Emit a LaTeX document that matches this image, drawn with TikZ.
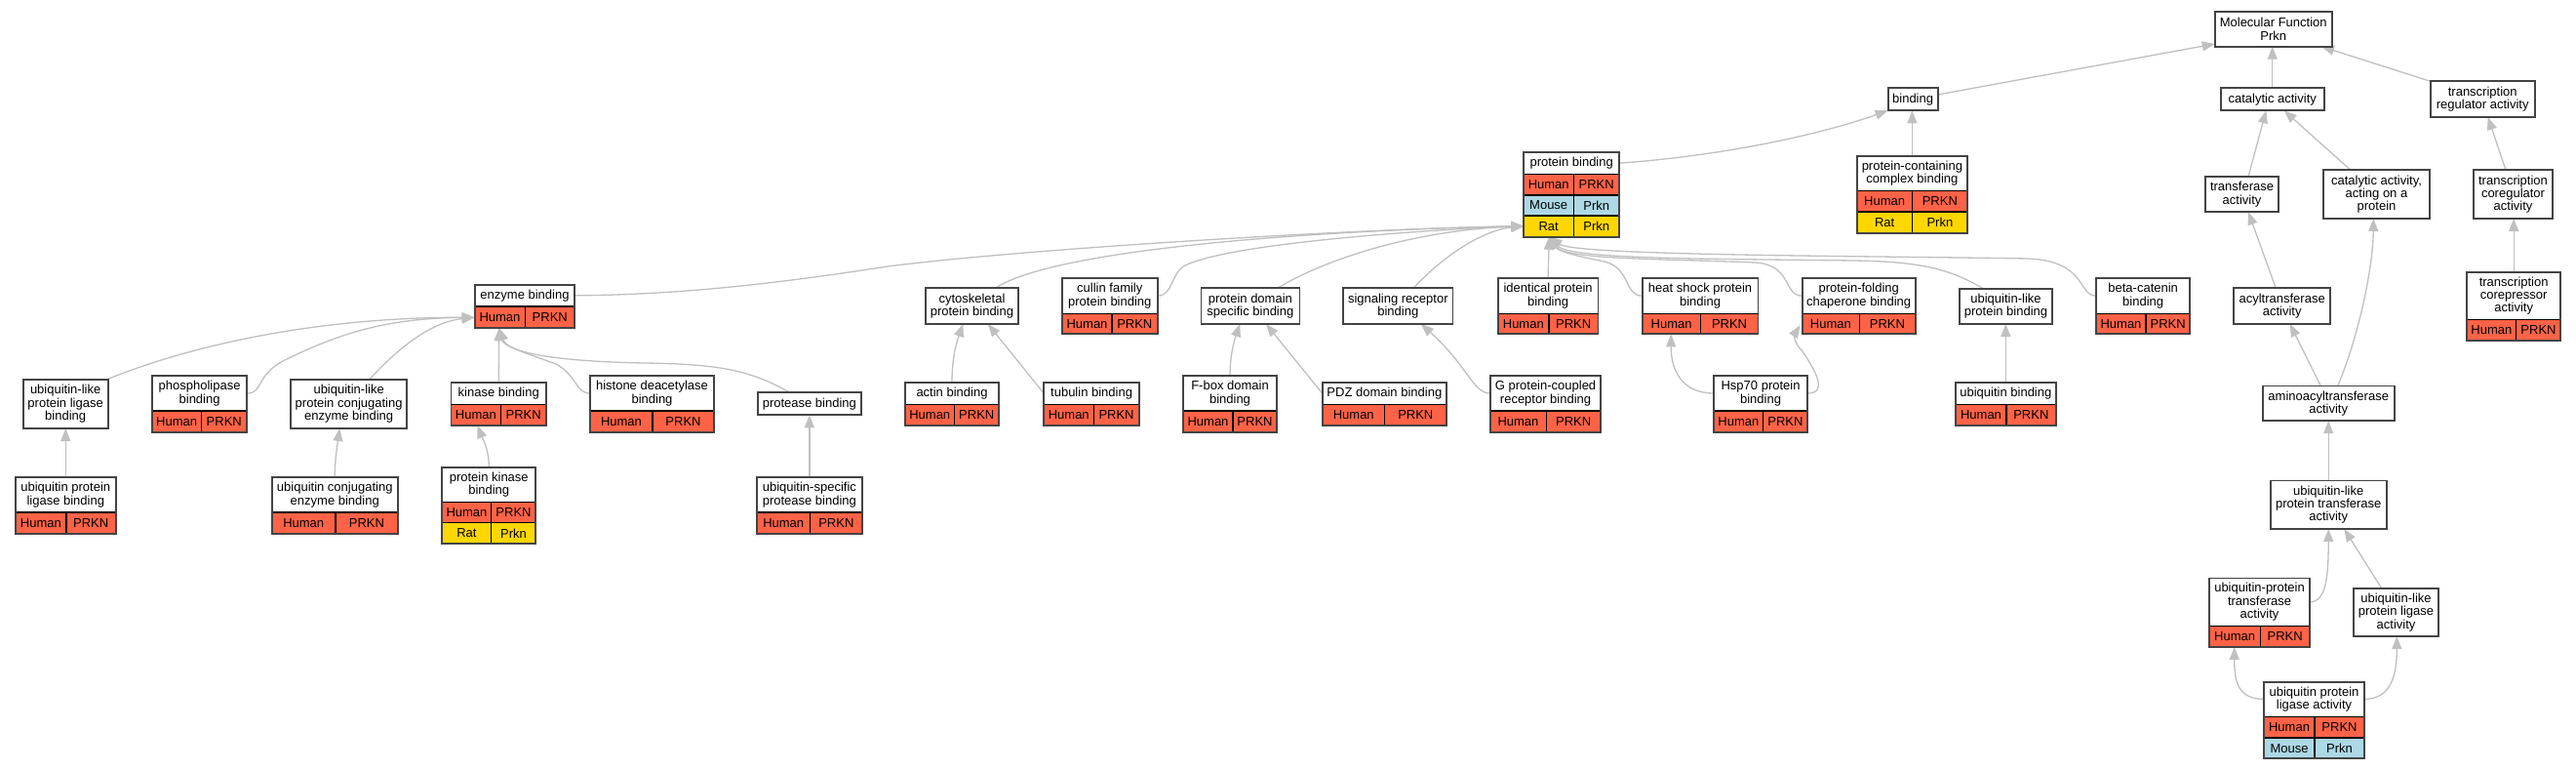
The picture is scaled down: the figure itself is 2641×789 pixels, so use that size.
\documentclass[tikz,border=0pt]{standalone}
\usepackage{fontspec}
\setmainfont{Liberation Sans}
\usetikzlibrary{arrows.meta,calc}
\pgfdeclarelayer{bg}
\pgfsetlayers{bg,main}
\definecolor{hred}{RGB}{255,99,71}
\definecolor{mblue}{RGB}{173,216,230}
\definecolor{ryel}{RGB}{255,215,0}
\definecolor{egrey}{RGB}{192,192,192}
\definecolor{fgrey}{RGB}{68,68,68}
\newcommand\gofont{\fontsize{13}{13.4}\selectfont}
\tikzset{
  hdr/.style={fill=white, inner sep=0pt, outer sep=0pt, align=center, font=\gofont},
  plainbox/.style={fill=white, draw=fgrey, line width=1.8pt, inner sep=0pt, outer sep=0pt, align=center, font=\gofont},
  cell/.style={draw=black, line width=1.2pt, inner sep=0pt, outer sep=0pt, font=\gofont},
  frame/.style={draw=fgrey, line width=1.8pt, inner sep=0pt, outer sep=0pt},
  edge/.style={draw=egrey, line width=1.3pt, -{Triangle[length=13pt,width=10pt]}},
}
% generic rectangle node from corner coordinates (x1,y1)-(x2,y2)
\newcommand\gorect[7]{% #1 style, #2 name, #3 x1, #4 y1, #5 x2, #6 y2, #7 text
  \pgfmathsetmacro\gow{#5-#3}\pgfmathsetmacro\goh{#6-#4}%
  \pgfmathsetmacro\gox{(#3+#5)/2}\pgfmathsetmacro\goy{(#4+#6)/2}%
  \node[#1,minimum width=\gow pt,minimum height=\goh pt] (#2) at (\gox,\goy) {#7};}
\newcommand\goplain[6]{\gorect{plainbox}{#1}{#2}{#3}{#4}{#5}{#6}}
\newcommand\gohead[6]{\gorect{hdr}{#1h}{#2}{#3}{#4}{#5}{#6}}
\newcommand\gorow[9]{%
  \gorect{cell,fill=#7}{#1s}{#2}{#5}{#3}{#6}{#8}%
  \gorect{cell,fill=#7}{#1g}{#3}{#5}{#4}{#6}{#9}}
\newcommand\goframe[5]{\gorect{frame}{#1}{#2}{#3}{#4}{#5}{}}
\begin{document}
\begin{tikzpicture}[x=1pt,y=-1pt]
\begin{pgfonlayer}{bg}
\fill[white] (0,0) rectangle (2641,789);
\end{pgfonlayer}
\useasboundingbox (0,0) rectangle (2641,789);
% ---------- plain boxes ----------
\goplain{mf}{2270.7}{11.7}{2390.7}{47.7}{Molecular Function\\Prkn}
\goplain{bind}{1935.6}{90.3}{1986.6}{113.3}{binding}
\goplain{cat}{2276.7}{90}{2382.7}{113.3}{catalytic activity}
\goplain{treg}{2491.7}{83.3}{2598.7}{120}{transcription\\regulator activity}
\goplain{trans}{2261}{181}{2336}{217.3}{transferase\\activity}
\goplain{catp}{2382.3}{174.3}{2490.7}{224}{catalytic activity,\\acting on a\\protein}
\goplain{tcoreg}{2535.7}{174.3}{2617.3}{224}{transcription\\coregulator\\activity}
\goplain{acyl}{2290.3}{295.3}{2389}{332}{acyltransferase\\activity}
\goplain{amino}{2319.7}{395.5}{2454.7}{431.2}{aminoacyltransferase\\activity}
\goplain{ublt}{2327.7}{492.4}{2446.7}{542}{ubiquitin-like\\protein transferase\\activity}
\goplain{ubll}{2413}{602.9}{2500}{652}{ubiquitin-like\\protein ligase\\activity}
\goplain{ublb}{23.6}{389}{110.7}{439}{ubiquitin-like\\protein ligase\\binding}
\goplain{ublc}{298.2}{389}{417.1}{439}{ubiquitin-like\\protein conjugating\\enzyme binding}
\goplain{prot}{777}{402.3}{882.7}{425.3}{protease binding}
\goplain{cyto}{949}{295.3}{1043.9}{332}{cytoskeletal\\protein binding}
\goplain{pdom}{1231.4}{295.3}{1332.4}{332}{protein domain\\specific binding}
\goplain{sig}{1377.2}{295.3}{1489.4}{332}{signaling receptor\\binding}
\goplain{ublpb}{2009}{295.7}{2104}{332}{ubiquitin-like\\protein binding}
% ---------- boxes with species rows ----------
\gohead{pb}{1562.2}{155.7}{1660.2}{178.7}{protein binding}
\gorow{pbr1}{1562.2}{1613.2}{1660.2}{178.7}{200}{hred}{Human}{PRKN}
\gorow{pbr2}{1562.2}{1613.2}{1660.2}{200}{221}{mblue}{Mouse}{Prkn}
\gorow{pbr3}{1562.2}{1613.2}{1660.2}{221}{242.7}{ryel}{Rat}{Prkn}
\goframe{pb}{1562.2}{155.7}{1660.2}{242.7}

\gohead{pcc}{1903.7}{159.7}{2017.1}{195.7}{protein-containing\\complex binding}
\gorow{pccr1}{1903.7}{1960.6}{2017.1}{195.7}{217}{hred}{Human}{PRKN}
\gorow{pccr2}{1903.7}{1960.6}{2017.1}{217}{238.7}{ryel}{Rat}{Prkn}
\goframe{pcc}{1903.7}{159.7}{2017.1}{238.7}

\gohead{tcorep}{2529}{278.7}{2625.3}{327.7}{transcription\\corepressor\\activity}
\gorow{tcorepr1}{2529}{2579.7}{2625.3}{327.7}{349.3}{hred}{Human}{PRKN}
\goframe{tcorep}{2529}{278.7}{2625.3}{349.3}

\gohead{ubpt}{2265}{592.4}{2368}{641.6}{ubiquitin-protein\\transferase\\activity}
\gorow{ubptr1}{2265}{2317.3}{2368}{641.6}{663}{hred}{Human}{PRKN}
\goframe{ubpt}{2265}{592.4}{2368}{663}

\gohead{upla}{2321}{698.6}{2424}{734.3}{ubiquitin protein\\ligase activity}
\gorow{uplar1}{2321}{2373}{2424}{734.3}{756}{hred}{Human}{PRKN}
\gorow{uplar2}{2321}{2373}{2424}{756}{777.3}{mblue}{Mouse}{Prkn}
\goframe{upla}{2321}{698.6}{2424}{777.3}

\gohead{eb}{486.7}{291.7}{589.3}{314}{enzyme binding}
\gorow{ebr1}{486.7}{538.3}{589.3}{314}{336}{hred}{Human}{PRKN}
\goframe{eb}{486.7}{291.7}{589.3}{336}

\gohead{phos}{156}{385}{253.2}{421}{phospholipase\\binding}
\gorow{phosr1}{156}{206.4}{253.2}{421}{442.7}{hred}{Human}{PRKN}
\goframe{phos}{156}{385}{253.2}{442.7}

\gohead{kb}{462.5}{391.7}{560}{414.3}{kinase binding}
\gorow{kbr1}{462.5}{513.3}{560}{414.3}{436}{hred}{Human}{PRKN}
\goframe{kb}{462.5}{391.7}{560}{436}

\gohead{hist}{605}{385}{732}{421}{histone deacetylase\\binding}
\gorow{histr1}{605}{669}{732}{421}{442.7}{hred}{Human}{PRKN}
\goframe{hist}{605}{385}{732}{442.7}

\gohead{upb}{16}{489}{118.6}{525}{ubiquitin protein\\ligase binding}
\gorow{upbr1}{16}{67.9}{118.6}{525}{546.7}{hred}{Human}{PRKN}
\goframe{upb}{16}{489}{118.6}{546.7}

\gohead{uceb}{278.6}{489}{407.9}{525}{ubiquitin conjugating\\enzyme binding}
\gorow{ucebr1}{278.6}{343.9}{407.9}{525}{546.7}{hred}{Human}{PRKN}
\goframe{uceb}{278.6}{489}{407.9}{546.7}

\gohead{pkb}{453.2}{478.7}{549.3}{514.3}{protein kinase\\binding}
\gorow{pkbr1}{453.2}{503.7}{549.3}{514.3}{535.7}{hred}{Human}{PRKN}
\gorow{pkbr2}{453.2}{503.7}{549.3}{535.7}{557.3}{ryel}{Rat}{Prkn}
\goframe{pkb}{453.2}{478.7}{549.3}{557.3}

\gohead{usp}{775.7}{489}{884}{525}{ubiquitin-specific\\protease binding}
\gorow{uspr1}{775.7}{830.7}{884}{525}{546.7}{hred}{Human}{PRKN}
\goframe{usp}{775.7}{489}{884}{546.7}

\gohead{cull}{1089}{285}{1186.6}{321.3}{cullin family\\protein binding}
\gorow{cullr1}{1089}{1140}{1186.6}{321.3}{342.3}{hred}{Human}{PRKN}
\goframe{cull}{1089}{285}{1186.6}{342.3}

\gohead{actin}{928}{391.7}{1024}{414.7}{actin binding}
\gorow{actinr1}{928}{978.5}{1024}{414.7}{436}{hred}{Human}{PRKN}
\goframe{actin}{928}{391.7}{1024}{436}

\gohead{tub}{1070.3}{391.7}{1167.9}{414.7}{tubulin binding}
\gorow{tubr1}{1070.3}{1121.2}{1167.9}{414.7}{436}{hred}{Human}{PRKN}
\goframe{tub}{1070.3}{391.7}{1167.9}{436}

\gohead{fbox}{1213}{385}{1309}{421}{F-box domain\\binding}
\gorow{fboxr1}{1213}{1264}{1309}{421}{442.7}{hred}{Human}{PRKN}
\goframe{fbox}{1213}{385}{1309}{442.7}

\gohead{pdz}{1355.8}{391.7}{1482.9}{414.7}{PDZ domain binding}
\gorow{pdzr1}{1355.8}{1419.7}{1482.9}{414.7}{436}{hred}{Human}{PRKN}
\goframe{pdz}{1355.8}{391.7}{1482.9}{436}

\gohead{ident}{1535.7}{285}{1638.5}{321.3}{identical protein\\binding}
\gorow{identr1}{1535.7}{1587.9}{1638.5}{321.3}{342.3}{hred}{Human}{PRKN}
\goframe{ident}{1535.7}{285}{1638.5}{342.3}

\gohead{heat}{1683.6}{285}{1802.5}{321.3}{heat shock protein\\binding}
\gorow{heatr1}{1683.6}{1743.6}{1802.5}{321.3}{342.3}{hred}{Human}{PRKN}
\goframe{heat}{1683.6}{285}{1802.5}{342.3}

\gohead{chap}{1847.6}{285}{1963.8}{321.3}{protein-folding\\chaperone binding}
\gorow{chapr1}{1847.6}{1906.1}{1963.8}{321.3}{342.3}{hred}{Human}{PRKN}
\goframe{chap}{1847.6}{285}{1963.8}{342.3}

\gohead{gpcr}{1527.8}{385}{1641.3}{421}{G protein-coupled\\receptor binding}
\gorow{gpcrr1}{1527.8}{1585.1}{1641.3}{421}{442.7}{hred}{Human}{PRKN}
\goframe{gpcr}{1527.8}{385}{1641.3}{442.7}

\gohead{hsp}{1757}{385}{1853.1}{421}{Hsp70 protein\\binding}
\gorow{hspr1}{1757}{1807.7}{1853.1}{421}{442.7}{hred}{Human}{PRKN}
\goframe{hsp}{1757}{385}{1853.1}{442.7}

\gohead{ubb}{2005}{391.7}{2107.7}{414.3}{ubiquitin binding}
\gorow{ubbr1}{2005}{2057}{2107.7}{414.3}{435.7}{hred}{Human}{PRKN}
\goframe{ubb}{2005}{391.7}{2107.7}{435.7}

\gohead{beta}{2149}{285}{2245.3}{321.3}{beta-catenin\\binding}
\gorow{betar1}{2149}{2200}{2245.3}{321.3}{342.3}{hred}{Human}{PRKN}
\goframe{beta}{2149}{285}{2245.3}{342.3}

% ---------- shared arrow targets ----------
\coordinate (pbL) at ($(pb.south west)+(0,-11)$);
\coordinate (pbB) at ($(pb.south west)+(26,0)$);
\coordinate (ebL) at ($(eb.south west)+(0,-10.7)$);
\coordinate (ebB) at ($(eb.south west)+(25,0)$);

% ---------- connectors ----------
\begin{pgfonlayer}{bg}
\draw[edge] ($(bind.north east)+(0,6.7)$) -- ($(mf.south west)+(0,-2.7)$);
\draw[edge] (cat.north) -- (cat.north |- mf.south);
\draw[edge] (treg.north west) -- ($(mf.south east)+(-10.7,0)$);
\draw[edge] (pbh.east) .. controls (1760,160) and (1860,140) .. (bind.south west);
\draw[edge] (pcch.north) -- (pcch.north |- bind.south);
\draw[edge] ($(trans.north west)+(44,0)$) -- ($(cat.south west)+(46.6,0)$);
\draw[edge] ($(catp.north west)+(27.7,0)$) -- ($(cat.south west)+(65,0)$);
\draw[edge] ($(tcoreg.north west)+(33.3,0)$) -- ($(treg.south west)+(59,0)$);
\draw[edge] (tcoreph.north) -- (tcoreph.north |- tcoreg.south);
\draw[edge] ($(acyl.north west)+(43,0)$) -- ($(trans.south west)+(44,0)$);
\draw[edge] ($(amino.north west)+(59.6,0)$) -- ($(acyl.south west)+(57.4,0)$);
\draw[edge] ($(amino.north west)+(77,0)$) .. controls (2420,340) and (2433,270) .. ($(catp.south west)+(51,0)$);
\draw[edge] (ublt.north) -- (ublt.north |- amino.south);
\draw[edge] (ubpth.east) .. controls (2384,616) and (2387.2,595) .. (ublt.south);
\draw[edge] ($(ubll.north west)+(28.7,0)$) -- ($(ublt.south west)+(75.6,0)$);
\draw[edge] (uplah.west) .. controls (2295,716) and (2290.7,700) .. ($(ubpt.south west)+(25.7,0)$);
\draw[edge] (uplah.east) .. controls (2450,716) and (2457.3,695) .. ($(ubll.south west)+(44.3,0)$);
% into protein binding (left)
\draw[edge] (ebh.east) .. controls (700,302) and (800,290) .. (910,273) .. controls (1050,255) and (1400,234) .. (pbL);
\draw[edge] ($(cyto.north west)+(71.5,0)$) .. controls (1080,255) and (1350,236) .. (pbL);
\draw[edge] (cullh.east) .. controls (1203,303) and (1200,280) .. (1215,272) .. controls (1260,250) and (1450,236) .. (pbL);
\draw[edge] ($(pdom.north west)+(78.1,0)$) .. controls (1360,265) and (1450,236) .. (pbL);
\draw[edge] ($(sig.north west)+(71.8,0)$) .. controls (1480,262) and (1520,236) .. (pbL);
% into protein binding (bottom)
\draw[edge] (identh.north) -- (pbB);
\draw[edge] (heath.west) .. controls (1665,303) and (1672,275) .. (1645,268) .. controls (1615,262) and (1598,258) .. (pbB);
\draw[edge] (chaph.west) .. controls (1828,303) and (1838,272) .. (1800,269) .. controls (1700,265) and (1605,266) .. (pbB);
\draw[edge] ($(ublpb.north west)+(24,0)$) .. controls (2000,276) and (1970,268) .. (1900,267) .. controls (1750,265) and (1610,266) .. (pbB);
\draw[edge] (betah.west) .. controls (2130,303) and (2140,268) .. (2080,265) .. controls (1900,262) and (1615,262) .. (pbB);
% into enzyme binding
\draw[edge] ($(ublb.north west)+(85.4,0)$) .. controls (200,352) and (330,325) .. (ebL);
\draw[edge] (phosh.east) .. controls (270,403) and (262,385) .. (290,370) .. controls (350,340) and (400,326) .. (ebL);
\draw[edge] ($(ublc.north west)+(80.4,0)$) .. controls (405,360) and (440,330) .. (ebL);
\draw[edge] (kbh.north) -- (ebB);
\draw[edge] (histh.west) .. controls (590,403) and (592,385) .. (570,373) .. controls (540,362) and (516,355) .. (ebB);
\draw[edge] ($(prot.north west)+(33,0)$) .. controls (770,380) and (740,373) .. (660,372) .. controls (560,370) and (520,360) .. (ebB);
% others
\draw[edge] (upbh.north) -- (upbh.north |- ublb.south);
\draw[edge] (ucebh.north) .. controls (343.3,470) and (346,455) .. ($(ublc.south west)+(50,0)$);
\draw[edge] (pkbh.north) .. controls (501.3,460) and (495,450) .. ($(kb.south west)+(27,0)$);
\draw[edge] (usph.north) -- (usph.north |- prot.south);
\draw[edge] (actinh.north) .. controls (976,365) and (981,350) .. ($(cyto.south west)+(38.3,0)$);
\draw[edge] (tubh.west) -- ($(cyto.south west)+(63.9,0)$);
\draw[edge] (fboxh.north) .. controls (1261,365) and (1265,350) .. ($(pdom.south west)+(39.8,0)$);
\draw[edge] (pdzh.west) -- ($(pdom.south west)+(66.6,0)$);
\draw[edge] (gpcrh.west) .. controls (1510,403) and (1505,375) .. ($(sig.south west)+(79.6,0)$);
\draw[edge] (hsph.west) .. controls (1725,403) and (1713,380) .. ($(heat.south west)+(29.6,0)$);
\draw[edge] (hsph.east) .. controls (1875,403) and (1860,378) .. (1848,360) .. controls (1838,350) and (1840,342) .. ($(chap.south west)+(-2,-9)$);
\draw[edge] (ubbh.north) -- (ubbh.north |- ublpb.south);
\end{pgfonlayer}
\end{tikzpicture}
\end{document}
